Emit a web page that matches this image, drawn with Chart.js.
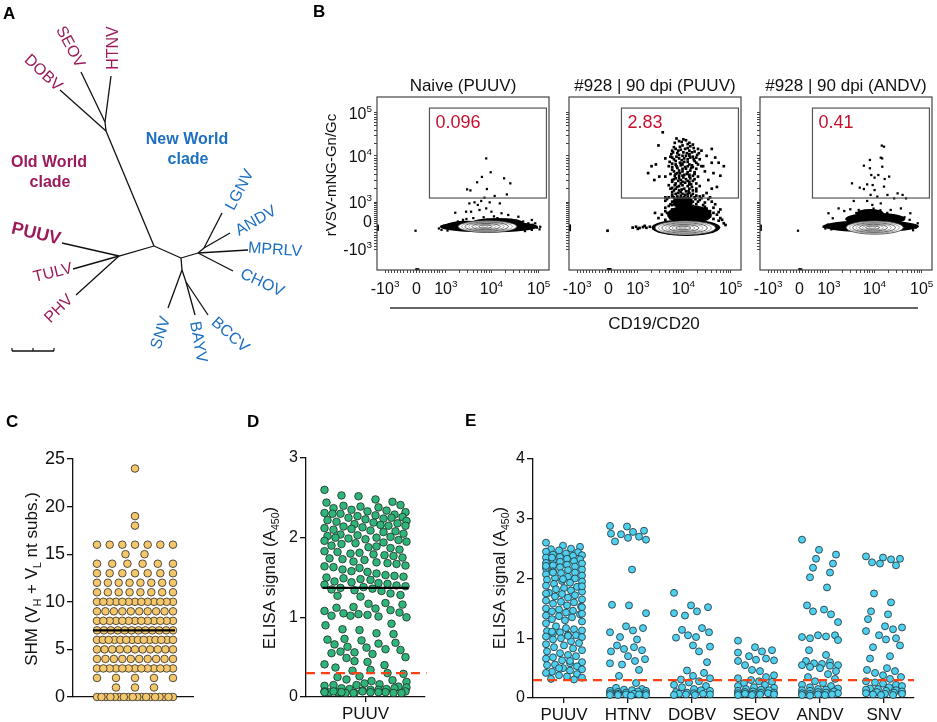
<!DOCTYPE html>
<html>
<head>
<meta charset="utf-8">
<script src="https://cdn.jsdelivr.net/npm/chart.js@4.4.1/dist/chart.umd.min.js"></script>
<style>
  body { margin: 0; background: #fff; }
  #page { position: relative; width: 937px; height: 722px; overflow: hidden; }
  #page canvas { position: absolute; left: 0; top: 0; }
</style>
</head>
<body>
<div id="page">
  <canvas id="tree" width="937" height="722"></canvas>
  <canvas id="flow0" width="937" height="722"></canvas>
  <canvas id="flow1" width="937" height="722"></canvas>
  <canvas id="flow2" width="937" height="722"></canvas>
  <canvas id="chartC" width="937" height="722"></canvas>
  <canvas id="chartD" width="937" height="722"></canvas>
  <canvas id="chartE" width="937" height="722"></canvas>
</div>
<script>
// ---------- data ----------

// A: tree nodes (page units) and branches
var treeNodes = {
  root: [154, 246], ow: [119, 256], PUUV: [62, 243], TULV: [73, 269], PHV: [76, 295],
  hs: [106, 131], hs2: [105, 122], DOBV: [60, 90], SEOV: [81, 72], HTNV: [111, 76],
  nw: [181, 258], nwA: [198, 253], la: [204, 248], LGNV: [222, 213], ANDV: [230, 233],
  MPRLV: [248, 250], CHOV: [233, 271], nwB: [182, 270], bb: [186, 282],
  SNV: [168, 308], BAYV: [195, 315], BCCV: [208, 315]
};
var treeEdges = [
  ['root', 'ow'], ['ow', 'PUUV'], ['ow', 'TULV'], ['ow', 'PHV'],
  ['root', 'hs'], ['hs', 'DOBV'], ['hs', 'hs2'], ['hs2', 'SEOV'], ['hs2', 'HTNV'],
  ['root', 'nw'], ['nw', 'nwA'], ['nwA', 'la'], ['la', 'LGNV'], ['la', 'ANDV'],
  ['nwA', 'MPRLV'], ['nwA', 'CHOV'], ['nw', 'nwB'], ['nwB', 'SNV'], ['nwB', 'bb'],
  ['bb', 'BAYV'], ['bb', 'BCCV']
];
var treeLabels = [
  {name: 'SEOV', x: 70, y: 47, rot: 62, clade: 'old'},
  {name: 'HTNV', x: 114, y: 48, rot: -90, clade: 'old'},
  {name: 'DOBV', x: 43, y: 73, rot: 43, clade: 'old'},
  {name: 'PUUV', x: 36, y: 234, rot: 13, clade: 'old', bold: true},
  {name: 'TULV', x: 53, y: 273, rot: -14, clade: 'old'},
  {name: 'PHV', x: 59, y: 309, rot: -45, clade: 'old'},
  {name: 'LGNV', x: 240, y: 190, rot: -62, clade: 'new'},
  {name: 'ANDV', x: 256, y: 221, rot: -30, clade: 'new'},
  {name: 'MPRLV', x: 275, y: 250, rot: 4, clade: 'new'},
  {name: 'CHOV', x: 262, y: 283, rot: 25, clade: 'new'},
  {name: 'SNV', x: 161, y: 333, rot: -72, clade: 'new'},
  {name: 'BAYV', x: 198, y: 342, rot: 80, clade: 'new'},
  {name: 'BCCV', x: 230, y: 335, rot: 42, clade: 'new'}
];
var cladeColors = {old: '#9c1c5b', new: '#1c6fc2'};
var scaleBar = [[12, 351], [54, 351]];

// B: flow plots, axes in display channels (0-1000)
var flowTitles = ['Naive (PUUV)', '#928 | 90 dpi (PUUV)', '#928 | 90 dpi (ANDV)'];
var flowGatePct = ['0.096', '2.83', '0.41'];
var flowTickBase = ['-10', '0', '10', '10', '10'];
var flowTickExp = ['3', '', '3', '4', '5'];
var flowTickVals = [-1000, 0, 1000, 10000, 100000];
var flowXChan = [47, 230, 400, 665, 940];
var flowYChan = [121, 283, 393, 659, 908];
var flowGate = [305, 416, 985, 936];
var flow1Dots = [
  [635,645],[661,565],[610,538],[582,507],[739,530],[775,501],[524,466],[543,460],[639,468],[755,437],
  [684,428],[625,418],[606,399],[567,391],[537,385],[586,376],[655,391],[714,385],[596,347],[547,337],
  [635,356],[665,337],[455,331],[518,337],[724,328],[763,318],[822,308],[900,289],[920,270],[949,250],
  [360,240],[375,232],[390,255],[410,228],[430,262],[450,270],[470,280],[500,290],[520,295],[560,300],
  [620,305],[680,310],[700,300],[780,290],[810,285],[850,280],[880,270],[905,262],[930,245],[945,235],
  [900,232],[860,225],[224,227],[4,232],[4,240],[4,248],[4,256],[228,3],[234,3],[240,3]
];
var flow2Dots = [
  [545,796],[640,745],[680,750],[700,735],[660,720],[720,725],[610,710],[690,705],[750,700],[650,695],
  [600,690],[730,685],[770,690],[630,675],[700,670],[660,660],[590,655],[720,655],[800,660],[560,645],
  [640,645],[690,640],[760,640],[620,630],[670,625],[740,620],[600,615],[700,610],[650,605],[580,600],
  [720,595],[770,600],[630,590],[680,585],[610,570],[660,570],[730,565],[590,555],[700,550],[640,545],
  [560,540],[750,540],[620,530],[680,525],[720,515],[600,510],[650,500],[700,495],[580,490],[760,485],
  [630,480],[670,470],[610,460],[720,460],[650,450],[690,440],[600,435],[740,430],[630,425],[670,420],
  [700,415],[580,420],[800,445],[850,650],[870,620],[830,700],[900,600],[480,600],[505,610],[520,720],
  [460,560],[790,570],[840,560],[880,545],[860,480],[830,470],[810,520],[780,600],[830,620],[496,520],
  [525,540],[615,735],[655,740],[705,715],[675,700],[635,690],[715,680],[665,680],[595,670],[745,665],
  [625,655],[705,650],[655,635],[725,640],[585,625],[645,620],[715,605],[625,600],[675,595],[705,575],
  [645,560],[685,555],[615,545],[665,535],[705,530],[635,515],[675,505],[615,490],[715,480],[655,465],
  [695,455],[635,445],[675,435],[615,410],[735,410],
  [600,650],[680,660],[740,650],[620,700],[700,690],[660,610],[600,580],[740,585],[690,600],[630,560],
  [670,550],[720,545],[600,520],[650,520],[700,510],[740,500],[620,470],[660,490],[700,470],[740,455],
  [600,450],[660,440],[710,430],[590,470],
  [625,760],[665,755],[690,728],[645,712],[725,705],[605,680],[685,675],[755,675],[640,665],[700,660],
  [610,640],[670,645],[730,630],[655,615],[690,625],[620,610],[750,610],[600,595],[660,585],[710,590],
  [640,575],[690,565],[620,555],[730,555],[660,545],[700,540],[610,525],[640,530],[690,515],[730,525],
  [620,500],[660,510],[710,495],[640,485],[690,485],[600,475],[740,470],[640,460],[680,455],[620,440],
  [700,445],[650,430],[720,440],[640,415],[690,410],[760,425],[600,425],[780,430],[560,420],[820,420],
  [560,400],[600,395],[640,405],[680,400],[720,395],[760,405],[620,385],[660,380],[700,385],[740,380],
  [580,370],[640,365],[680,360],[720,370],[780,375],[600,350],[660,345],[700,350],[750,345],[800,355],
  [560,340],[620,330],[680,325],[730,330],[780,330],[820,340],[540,320],[600,310],[650,305],[710,310],
  [760,315],[820,310],[860,320],[880,300],[890,290],[500,330],[520,300],[880,350],[850,380],[900,270],
  [910,260],[570,410],[610,420],[650,415],[690,425],[730,420],[770,415],[810,410],[590,380],[630,395],
  [670,390],[710,405],[750,395],[790,390],[830,395],[560,360],[600,375],[650,370],[700,365],[740,360],
  [790,365],[840,360],[570,330],[610,340],[660,330],[700,335],[740,325],[790,340],[840,330],[870,335],
  [590,300],[640,295],[690,300],[740,300],[790,300],[840,295],[870,285],[560,290],[610,290],
  [370,245],[390,250],[410,243],[430,248],[450,244],[470,250],[490,242],[400,238],[440,255],
  [224,227],[4,232],[4,240],[4,248],[4,256],[228,3],[234,3],[240,3]
];
var flow3Dots = [
  [708,719],[721,713],[702,649],[710,645],[639,636],[604,603],[639,588],[711,597],[751,540],[688,549],
  [666,534],[647,549],[535,501],[623,495],[725,526],[655,491],[580,476],[604,468],[666,462],[721,482],
  [741,434],[800,443],[829,434],[849,414],[780,414],[643,434],[682,424],[545,399],[623,399],[702,385],
  [653,376],[525,351],[457,356],[490,341],[574,347],[819,356],[874,328],[760,347],[423,299],[398,328],
  [917,270],[370,250],[380,240],[395,262],[415,235],[905,245],[890,230],[870,290],[840,305],[560,330],
  [600,340],[700,345],[740,330],[660,355],
  [221,227],[4,232],[4,240],[4,248],[4,256],[228,3],[234,3],[240,3]
];
var flowDots = [flow1Dots, flow2Dots, flow3Dots];
var flowDotSize = [1.6, 1.9, 1.6];
// dense event clouds [cx, cy, rx, ry] and contour rings
var flowBlobs = [
  [[650, 250, 285, 33], [520, 258, 120, 26], [700, 275, 150, 26]],
  [[680, 245, 200, 48], [700, 320, 130, 55], [660, 390, 60, 35]],
  [[645, 253, 280, 35], [670, 295, 175, 36], [640, 325, 80, 28]]
];
var flowRings = [
  [[642,251,170,34],[640,251,148,30],[638,251,126,26],[636,251,104,22],[634,251,82,18],[632,251,60,13],[630,251,38,9],[628,251,18,5]],
  [[676,243,176,40],[674,243,154,35],[672,243,132,30],[670,243,110,25],[668,243,88,20],[666,243,66,15],[664,243,44,10],[662,243,22,5]],
  [[667,245,166,38],[665,245,145,33],[663,245,124,28],[661,245,103,24],[659,245,82,19],[657,245,61,14],[655,245,40,9],[653,245,20,5]]
];

// C: somatic hypermutation counts
var shmValues = [0, 1, 2, 3, 4, 5, 6, 7, 8, 9, 10, 11, 12, 13, 14, 15, 16, 18, 19, 24];
var shmCounts = [18, 3, 5, 13, 10, 11, 14, 12, 13, 10, 13, 8, 8, 7, 6, 2, 7, 1, 1, 1];
var shmMedian = 7;

// D: ELISA vs PUUV
var elisaPuuv = [
  2.60, 2.53, 2.52, 2.48, 2.45, 2.44, 2.40, 2.39, 2.38, 2.41, 2.37, 2.35, 2.33, 2.34, 2.32,
  2.30, 2.29, 2.28, 2.31, 2.27, 2.30, 2.25, 2.24, 2.23, 2.26, 2.22, 2.25, 2.20, 2.19, 2.18,
  2.21, 2.17, 2.15, 2.14, 2.13, 2.16, 2.12, 2.15, 2.10, 2.09, 2.08, 2.11, 2.07, 2.05, 2.04,
  2.03, 2.02, 2.00, 1.99, 1.98, 2.01, 1.97, 2.00, 1.95, 1.94, 1.93, 1.96, 1.92, 1.90, 1.88,
  1.87, 1.89, 1.85, 1.83, 1.82, 1.80, 1.79, 1.78, 1.81, 1.77, 1.75, 1.74, 1.73, 1.72, 1.70,
  1.69, 1.68, 1.67, 1.65, 1.64, 1.62, 1.63, 1.60, 1.58, 1.57, 1.55, 1.53, 1.52, 1.50, 1.49,
  1.48, 1.51, 1.47, 1.45, 1.44, 1.43, 1.42, 1.40, 1.39, 1.38, 1.41, 1.37, 1.36, 1.35, 1.34,
  1.33, 1.30, 1.28, 1.27, 1.26, 1.17, 1.18, 1.16, 1.12, 1.13, 1.11, 1.09, 1.08, 1.05, 1.04,
  1.06, 1.03, 1.02, 1.01, 1.00, 1.02, 0.92, 0.90, 0.85, 0.84, 0.80, 0.79, 0.72, 0.73, 0.71,
  0.67, 0.68, 0.66, 0.63, 0.62, 0.60, 0.59, 0.55, 0.56, 0.54, 0.57, 0.50, 0.49, 0.45, 0.44,
  0.40, 0.41, 0.37, 0.33, 0.34, 0.30, 0.29, 0.25, 0.26, 0.20, 0.21, 0.19, 0.22, 0.15, 0.16,
  0.14, 0.15, 0.13, 0.17, 0.10, 0.11, 0.09, 0.10, 0.12, 0.08, 0.11, 0.09, 0.06, 0.05, 0.07,
  0.06, 0.05, 0.07, 0.06, 0.05, 0.06, 0.07, 0.05, 0.06, 0.07, 0.05, 0.06, 0.06
];
var elisaMedian = 1.37;
var elisaCutoff = 0.3;

// E: cross-reactivity per antigen
var eGroups = ['PUUV', 'HTNV', 'DOBV', 'SEOV', 'ANDV', 'SNV'];
var ePUUV = [
  2.60, 2.55, 2.53, 2.50, 2.49, 2.47, 2.45, 2.44, 2.42, 2.40, 2.39, 2.38, 2.36, 2.35, 2.33,
  2.32, 2.30, 2.29, 2.28, 2.26, 2.25, 2.23, 2.22, 2.20, 2.19, 2.17, 2.15, 2.14, 2.12, 2.10,
  2.09, 2.07, 2.05, 2.03, 2.01, 2.00, 1.98, 1.96, 1.95, 1.93, 1.91, 1.88, 1.86, 1.84, 1.82,
  1.80, 1.78, 1.76, 1.74, 1.72, 1.70, 1.68, 1.65, 1.63, 1.61, 1.60, 1.58, 1.55, 1.53, 1.50,
  1.48, 1.46, 1.45, 1.43, 1.40, 1.38, 1.37, 1.35, 1.32, 1.30, 1.28, 1.25, 1.20, 1.17, 1.15,
  1.13, 1.12, 1.10, 1.08, 1.06, 1.05, 1.03, 1.02, 1.00, 0.98, 0.95, 0.92, 0.90, 0.88, 0.85,
  0.83, 0.80, 0.78, 0.75, 0.72, 0.70, 0.68, 0.66, 0.63, 0.60, 0.58, 0.56, 0.55, 0.53, 0.50,
  0.48, 0.46, 0.44, 0.42, 0.40, 0.38, 0.36, 0.34, 0.32, 0.31, 2.35, 2.21, 2.10, 1.99, 1.87,
  1.75, 1.52, 1.41, 1.11, 1.04, 0.62, 0.50
];
var eHTNV = [
  2.88, 2.87, 2.80, 2.78, 2.75, 2.74, 2.70, 2.68, 2.65, 2.62, 2.15, 1.56, 1.55, 1.42, 1.20,
  1.17, 1.13, 1.10, 1.02, 0.98, 0.88, 0.85, 0.82, 0.80, 0.78, 0.70, 0.65, 0.62, 0.58, 0.56,
  0.47, 0.37, 0.25, 0.17, 0.15, 0.14, 0.13, 0.12, 0.12, 0.11, 0.10, 0.09, 0.08, 0.08, 0.07,
  0.07, 0.06, 0.06, 0.05, 0.05, 0.05, 0.04
];
var eDOBV = [
  1.76, 1.55, 1.52, 1.45, 1.42, 1.38, 1.17, 1.14, 1.10, 1.05, 1.02, 1.01, 0.88, 0.86, 0.78,
  0.60, 0.46, 0.42, 0.37, 0.33, 0.31, 0.28, 0.26, 0.22, 0.20, 0.18, 0.15, 0.13, 0.12, 0.10,
  0.09, 0.08, 0.07, 0.07, 0.06, 0.06, 0.05, 0.05
];
var eSEOV = [
  0.96, 0.85, 0.80, 0.78, 0.76, 0.70, 0.66, 0.64, 0.63, 0.62, 0.55, 0.47, 0.45, 0.38, 0.35,
  0.33, 0.30, 0.28, 0.27, 0.25, 0.22, 0.20, 0.18, 0.17, 0.15, 0.14, 0.13, 0.12, 0.11, 0.10,
  0.09, 0.09, 0.08, 0.08, 0.07, 0.07, 0.06, 0.06, 0.05, 0.05
];
var eANDV = [
  2.65, 2.48, 2.40, 2.33, 2.25, 2.18, 2.10, 2.02, 1.85, 1.55, 1.48, 1.45, 1.40, 1.27, 1.05,
  1.05, 1.03, 1.02, 1.00, 0.97, 0.80, 0.72, 0.62, 0.60, 0.58, 0.57, 0.55, 0.55, 0.54, 0.52,
  0.50, 0.45, 0.40, 0.35, 0.32, 0.28, 0.25, 0.22, 0.20, 0.18, 0.16, 0.15, 0.14, 0.13, 0.12,
  0.11, 0.10, 0.09, 0.08, 0.08, 0.07, 0.06, 0.06, 0.05, 0.05, 0.04
];
var eSNV = [
  2.37, 2.35, 2.33, 2.32, 2.27, 2.25, 2.22, 1.75, 1.60, 1.45, 1.40, 1.32, 1.20, 1.18, 1.15,
  1.12, 1.05, 1.00, 0.98, 0.88, 0.85, 0.70, 0.66, 0.50, 0.47, 0.45, 0.42, 0.38, 0.35, 0.32,
  0.28, 0.26, 0.24, 0.22, 0.20, 0.18, 0.16, 0.15, 0.14, 0.13, 0.12, 0.11, 0.10, 0.09, 0.08,
  0.07, 0.07, 0.06, 0.05, 0.05
];
var eValues = [ePUUV, eHTNV, eDOBV, eSEOV, eANDV, eSNV];

// ---------- helpers ----------
var W = 937, H = 722;
var FONT = "'Liberation Sans', Arial, Helvetica, sans-serif";
Chart.defaults.font.family = FONT;
Chart.defaults.color = '#111';

// chart area l..r, t..b; yW / xH = room kept for the axis boxes (labels are clipped to them)
function pad(l, t, r, b, yW, xH) {
  return {left: l - (yW || 0), top: t, right: W - r, bottom: H - b - (xH || 0)};
}
function fixSize(n) {
  return function (scale) { if (scale.isHorizontal()) scale.height = n; else scale.width = n; };
}
function setFont(ctx, size, weight) { ctx.font = (weight || 'normal') + ' ' + size + 'px ' + FONT; }
function part(p) { return typeof p === 'string' ? {t: p} : p; }

function richWidth(ctx, parts, size, weight) {
  var w = 0;
  parts.forEach(function (p) {
    p = part(p);
    setFont(ctx, (p.sub || p.sup) ? size * 0.62 : size, weight);
    w += ctx.measureText(p.t).width;
  });
  return w;
}
function drawRich(ctx, parts, x, y, size, align, color, weight) {
  var w = richWidth(ctx, parts, size, weight);
  var cx = align === 'center' ? x - w / 2 : (align === 'right' ? x - w : x);
  ctx.fillStyle = color || '#111';
  ctx.textAlign = 'left';
  ctx.textBaseline = 'alphabetic';
  parts.forEach(function (p) {
    p = part(p);
    setFont(ctx, (p.sub || p.sup) ? size * 0.62 : size, weight);
    var dy = p.sub ? size * 0.2 : (p.sup ? -size * 0.42 : 0);
    ctx.fillText(p.t, cx, y + dy);
    cx += ctx.measureText(p.t).width;
  });
}
function vTitle(ctx, parts, x, y, size) {
  ctx.save();
  ctx.translate(x, y);
  ctx.rotate(-Math.PI / 2);
  drawRich(ctx, parts, 0, size * 0.36, size, 'center');
  ctx.restore();
}
function baseOptions(area, scales) {
  return {
    responsive: false, animation: false, events: [],
    layout: {padding: area},
    plugins: {legend: {display: false}, tooltip: {enabled: false}},
    scales: scales
  };
}
function gcd(a, b) { return b ? gcd(b, a % b) : a; }
function stride(n) {
  var c = [3, 5, 7, 2];
  for (var i = 0; i < c.length; i++) if (n > c[i] && gcd(c[i], n) === 1) return c[i];
  return 1;
}
// integer data: spread each row across the column width
function rows(values, spread, cap, center) {
  var bins = {};
  values.forEach(function (v) { (bins[v] = bins[v] || []).push(v); });
  var pts = [];
  Object.keys(bins).forEach(function (k) {
    var row = bins[k], n = row.length, st = stride(n);
    var step = n > 1 ? Math.min(cap, spread / (n - 1)) : 0;
    row.forEach(function (v, i) {
      var slot = (i * st) % n;
      pts.push({x: center + (slot - (n - 1) / 2) * step, y: v});
    });
  });
  return pts;
}
// continuous data: place each dot at the least crowded x inside the column
function column(values, pxPerUnit, dia, spread, center) {
  var cands = [];
  for (var c = -spread / 2; c <= spread / 2 + 0.01; c += 1) cands.push(c);
  var n = cands.length, hop = 17;
  while (gcd(hop, n) !== 1) hop++;
  var placed = [];
  values.forEach(function (v, idx) {
    var py = v * pxPerUnit, best = 0, bestScore = Infinity;
    for (var j = 0; j < n; j++) {
      var cx = cands[(j + idx * hop) % n], score = 0;
      for (var k = 0; k < placed.length; k++) {
        var dx = placed[k].x - cx, dy = placed[k].py - py;
        var d = Math.sqrt(dx * dx + dy * dy);
        if (d < dia) score += dia - d;
      }
      if (score < bestScore - 1e-9) { bestScore = score; best = cx; }
    }
    placed.push({x: best, py: py});
  });
  return placed.map(function (p) { return {x: center + p.x, y: p.py / pxPerUnit}; });
}
function expand(vals, counts) {
  var out = [];
  vals.forEach(function (v, i) { for (var k = 0; k < counts[i]; k++) out.push(v); });
  return out;
}
function valueAxis(min, max, step, size, tl, width) {
  return {
    type: 'linear', min: min, max: max, afterFit: fixSize(width),
    ticks: {stepSize: step, font: {size: size}, color: '#111', padding: 2},
    grid: {display: true, drawOnChartArea: false, drawTicks: true, tickLength: tl, color: '#111', lineWidth: 1.3},
    border: {display: true, color: '#111', width: 1.3}
  };
}

// ---------- A: tree ----------
var treeSets = treeEdges.map(function (e) {
  var a = treeNodes[e[0]], b = treeNodes[e[1]];
  return {data: [{x: a[0], y: a[1]}, {x: b[0], y: b[1]}], showLine: true,
    borderColor: '#111', borderWidth: 1.3, pointRadius: 0};
});
treeSets.push({data: scaleBar.map(function (p) { return {x: p[0], y: p[1]}; }), showLine: true,
  borderColor: '#111', borderWidth: 1.6, pointRadius: 0});

var pageText = {
  id: 'pageText',
  afterDraw: function (chart) {
    var ctx = chart.ctx, xs = chart.scales.x, ys = chart.scales.y;
    ctx.strokeStyle = '#111'; ctx.lineWidth = 1.2;
    [scaleBar[0][0], (scaleBar[0][0] + scaleBar[1][0]) / 2, scaleBar[1][0]].forEach(function (x) {
      ctx.beginPath();
      ctx.moveTo(xs.getPixelForValue(x), ys.getPixelForValue(scaleBar[0][1]) - 3);
      ctx.lineTo(xs.getPixelForValue(x), ys.getPixelForValue(scaleBar[0][1]));
      ctx.stroke();
    });
    treeLabels.forEach(function (l) {
      ctx.save();
      ctx.translate(xs.getPixelForValue(l.x), ys.getPixelForValue(l.y));
      ctx.rotate(l.rot * Math.PI / 180);
      setFont(ctx, l.bold ? 18 : 16, l.bold ? 'bold' : 'normal');
      ctx.fillStyle = cladeColors[l.clade];
      ctx.textAlign = 'center'; ctx.textBaseline = 'middle';
      ctx.fillText(l.name, 0, 0);
      ctx.restore();
    });
    setFont(ctx, 16, 'bold');
    ctx.textAlign = 'center'; ctx.textBaseline = 'alphabetic';
    ctx.fillStyle = cladeColors.old;
    ctx.fillText('Old World', 49, 167);
    ctx.fillText('clade', 50, 187);
    ctx.fillStyle = cladeColors.new;
    ctx.fillText('New World', 187, 144);
    ctx.fillText('clade', 188, 164);
    setFont(ctx, 17, 'bold');
    ctx.fillStyle = '#000'; ctx.textAlign = 'left';
    [['A', 3, 19], ['B', 313, 17], ['C', 6, 427], ['D', 247, 427], ['E', 465, 426]].forEach(function (p) {
      ctx.fillText(p[0], p[1], p[2]);
    });
  }
};

new Chart(document.getElementById('tree'), {
  type: 'scatter',
  data: {datasets: treeSets},
  options: baseOptions(0, {
    x: {type: 'linear', display: false, min: 0, max: W},
    y: {type: 'linear', display: false, min: 0, max: H, reverse: true}
  }),
  plugins: [pageText]
});

// ---------- B: flow plots ----------
var flowLefts = [377, 569, 760];
var flowW = 172, flowTop = 97, flowBottom = 270;

function chanOf(v, chans) {
  if (v <= 0) return chans[1] + (v / 1000) * (chans[1] - chans[0]);
  if (v <= 1000) return chans[1] + (v / 1000) * (chans[2] - chans[1]);
  if (v <= 10000) return chans[2] + Math.log10(v / 1000) * (chans[3] - chans[2]);
  return chans[3] + Math.log10(v / 10000) * (chans[4] - chans[3]);
}
function flowTicks(chans) {
  var vals = flowTickVals.slice();
  for (var k = 1; k <= 9; k++) { vals.push(-k * 100); vals.push(k * 100); }
  for (k = 2; k <= 9; k++) { vals.push(k * 1000); vals.push(k * 10000); }
  return vals.map(function (v) { return {value: chanOf(v, chans)}; })
    .filter(function (t) { return t.value >= 0 && t.value <= 1000; });
}
function ellipsePath(ctx, xs, ys, e) {
  var cx = xs.getPixelForValue(e[0]), cy = ys.getPixelForValue(e[1]);
  var rx = Math.abs(xs.getPixelForValue(e[0] + e[2]) - cx);
  var ry = Math.abs(ys.getPixelForValue(e[1] + e[3]) - cy);
  ctx.beginPath();
  ctx.ellipse(cx, cy, rx, ry, 0, 0, Math.PI * 2);
}
function flowPlugin(i) {
  return {
    id: 'flowDecor' + i,
    beforeDatasetsDraw: function (chart) {
      var ctx = chart.ctx, xs = chart.scales.x, ys = chart.scales.y, a = chart.chartArea;
      ctx.save();
      ctx.beginPath(); ctx.rect(a.left, a.top, a.right - a.left, a.bottom - a.top); ctx.clip();
      ctx.fillStyle = '#000';
      flowBlobs[i].forEach(function (b) { ellipsePath(ctx, xs, ys, b); ctx.fill(); });
      flowRings[i].forEach(function (r, k) {
        ellipsePath(ctx, xs, ys, r);
        if (k === 0) { ctx.fillStyle = '#fff'; ctx.fill(); }
        ctx.strokeStyle = k % 2 ? '#8a8a8a' : '#3a3a3a';
        ctx.lineWidth = 0.8;
        ctx.stroke();
      });
      ctx.restore();
    },
    afterDraw: function (chart) {
      var ctx = chart.ctx, xs = chart.scales.x, ys = chart.scales.y, a = chart.chartArea;
      ctx.save();
      ctx.strokeStyle = '#444'; ctx.lineWidth = 1.2;
      ctx.strokeRect(a.left, a.top, a.right - a.left, a.bottom - a.top);
      var gx0 = xs.getPixelForValue(flowGate[0]), gy0 = ys.getPixelForValue(flowGate[1]);
      var gx1 = xs.getPixelForValue(flowGate[2]), gy1 = ys.getPixelForValue(flowGate[3]);
      ctx.strokeStyle = '#555';
      ctx.strokeRect(gx0, gy1, gx1 - gx0, gy0 - gy1);
      drawRich(ctx, [flowGatePct[i]], gx0 + 6, gy1 + 20, 18, 'left', '#c8102e');
      drawRich(ctx, [flowTitles[i]], (a.left + a.right) / 2, 91, 17, 'center', '#111');
      flowTickVals.forEach(function (v, k) {
        var parts = flowTickExp[k] ? [flowTickBase[k], {t: flowTickExp[k], sup: true}] : [flowTickBase[k]];
        drawRich(ctx, parts, xs.getPixelForValue(flowXChan[k]), 294, 16, 'center', '#111');
        if (i === 0) drawRich(ctx, parts, a.left - 5, ys.getPixelForValue(flowYChan[k]) + 6, 16, 'right', '#111');
      });
      if (i === 0) {
        vTitle(ctx, ['rVSV-mNG-Gn/Gc'], 331, 175, 15);
        ctx.strokeStyle = '#333'; ctx.lineWidth = 1.5;
        ctx.beginPath(); ctx.moveTo(390, 308); ctx.lineTo(918, 308); ctx.stroke();
        drawRich(ctx, ['CD19/CD20'], 654, 329, 17, 'center', '#111');
      }
      ctx.restore();
    }
  };
}
function flowAxis(chans) {
  return {
    type: 'linear', min: 0, max: 1000, afterFit: fixSize(0),
    afterBuildTicks: function (s) { s.ticks = flowTicks(chans); },
    ticks: {display: false},
    grid: {display: true, drawOnChartArea: false, drawTicks: true, tickLength: 3, color: '#444', lineWidth: 1},
    border: {display: false}
  };
}
flowDots.forEach(function (dots, i) {
  var l = flowLefts[i];
  new Chart(document.getElementById('flow' + i), {
    type: 'scatter',
    data: {datasets: [{
      data: dots.map(function (p) { return {x: p[0], y: p[1]}; }),
      pointStyle: 'rect', pointRadius: flowDotSize[i], backgroundColor: '#000', borderWidth: 0
    }]},
    options: baseOptions(pad(l, flowTop, l + flowW, flowBottom), {
      x: flowAxis(flowXChan),
      y: flowAxis(flowYChan)
    }),
    plugins: [flowPlugin(i)]
  });
});

// ---------- C: SHM ----------
var cPoints = rows(expand(shmValues, shmCounts), 76, 19, 2);
new Chart(document.getElementById('chartC'), {
  type: 'scatter',
  data: {datasets: [
    {type: 'line', data: [{x: -40, y: shmMedian}, {x: 42, y: shmMedian}], borderColor: '#000',
      borderWidth: 2.2, pointRadius: 0, order: 0, clip: false},
    {data: cPoints, backgroundColor: '#f4c76b', borderColor: '#2a2a2a', borderWidth: 0.8,
      pointRadius: 3.8, order: 1, clip: false}
  ]},
  options: baseOptions(pad(73, 459, 193, 697, 50, 0), {
    x: {type: 'linear', min: -60, max: 60, afterFit: fixSize(0), ticks: {display: false},
      grid: {display: false}, border: {display: true, color: '#111', width: 1.3}},
    y: valueAxis(0, 25, 5, 18, 6, 50)
  }),
  plugins: [{id: 'cTitle', afterDraw: function (chart) {
    vTitle(chart.ctx, ['SHM (V', {t: 'H', sub: true}, ' + V', {t: 'L', sub: true}, ' nt subs.)'], 31, 579, 17);
  }}]
});

// ---------- D: ELISA PUUV ----------
var dPoints = column(elisaPuuv, 239 / 3, 8.4, 82, 0);
new Chart(document.getElementById('chartD'), {
  type: 'scatter',
  data: {datasets: [
    {type: 'line', data: [{x: -59.5, y: elisaCutoff}, {x: 61, y: elisaCutoff}], borderColor: '#ff4214',
      borderWidth: 2.2, borderDash: [9, 6], pointRadius: 0, order: 0, clip: false},
    {type: 'line', data: [{x: -43, y: elisaMedian}, {x: 43, y: elisaMedian}], borderColor: '#000',
      borderWidth: 2.2, pointRadius: 0, order: 0, clip: false},
    {data: dPoints, backgroundColor: '#2fb57a', borderColor: '#1d2a22', borderWidth: 0.8,
      pointRadius: 3.8, order: 1, clip: false}
  ]},
  options: baseOptions(pad(306, 458, 425, 697, 40, 26), {
    x: {type: 'linear', min: -59.5, max: 59.5, afterFit: fixSize(26),
      afterBuildTicks: function (s) { s.ticks = [{value: 0}]; },
      ticks: {font: {size: 17}, color: '#111', padding: 2, callback: function () { return 'PUUV'; }},
      grid: {display: true, drawOnChartArea: false, drawTicks: true, tickLength: 5, color: '#111', lineWidth: 1.3},
      border: {display: true, color: '#111', width: 1.3}},
    y: valueAxis(0, 3, 1, 16, 6, 40)
  }),
  plugins: [{id: 'dTitle', afterDraw: function (chart) {
    vTitle(chart.ctx, ['ELISA signal (A', {t: '450', sub: true}, ')'], 269, 578, 17);
  }}]
});

// ---------- E: cross-reactivity ----------
var eCenters = eGroups.map(function (g, i) { return 31 + 64 * i; });
var ePoints = [];
eValues.forEach(function (vals, i) { ePoints = ePoints.concat(column(vals, 239 / 4, 7.8, 36, eCenters[i])); });
new Chart(document.getElementById('chartE'), {
  type: 'scatter',
  data: {datasets: [
    {type: 'line', data: [{x: 0, y: elisaCutoff}, {x: 381, y: elisaCutoff}], borderColor: '#ff4214',
      borderWidth: 2.2, borderDash: [9, 6], pointRadius: 0, order: 0, clip: false},
    {data: ePoints, backgroundColor: '#4fcfee', borderColor: '#1c2d33', borderWidth: 0.8,
      pointRadius: 3.5, order: 1, clip: false}
  ]},
  options: baseOptions(pad(533, 459, 914, 698, 40, 26), {
    x: {type: 'linear', min: 0, max: 381, afterFit: fixSize(26),
      afterBuildTicks: function (s) { s.ticks = eCenters.map(function (c) { return {value: c}; }); },
      ticks: {font: {size: 17}, color: '#111', padding: 2, autoSkip: false, maxRotation: 0,
        callback: function (v, i) { return eGroups[i]; }},
      grid: {display: true, drawOnChartArea: false, drawTicks: true, tickLength: 5, color: '#111', lineWidth: 1.3},
      border: {display: true, color: '#111', width: 1.3}},
    y: valueAxis(0, 4, 1, 16, 6, 40)
  }),
  plugins: [{id: 'eTitle', afterDraw: function (chart) {
    vTitle(chart.ctx, ['ELISA signal (A', {t: '450', sub: true}, ')'], 499, 578, 17);
  }}]
});
</script>
</body>
</html>
